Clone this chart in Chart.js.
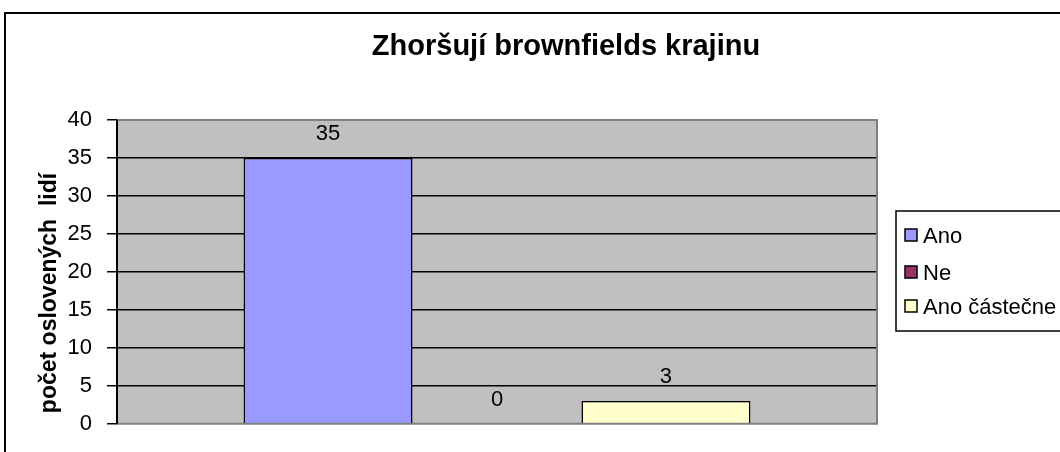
<!DOCTYPE html>
<html>
<head>
<meta charset="utf-8">
<script src="https://cdn.jsdelivr.net/npm/chart.js@4/dist/chart.umd.min.js"></script>
<style>
html,body{margin:0;padding:0;background:#fff;}
#wrap{width:1060px;height:452px;position:relative;}
</style>
</head>
<body>
<div id="wrap"><canvas id="c" width="1060" height="452"></canvas></div>
<script>
const chartTitle = "Zhoršují brownfields krajinu";
const yAxisTitle = "počet oslovených  lidí";
const categories = [""];
const seriesNames = ["Ano", "Ne", "Ano částečne"];
const seriesValues = [35, 0, 3];
const seriesColors = ["#9999FF", "#993366", "#FFFFCC"];
const yTicks = [0, 5, 10, 15, 20, 25, 30, 35, 40];

const FONT = "Arial, 'Liberation Sans', sans-serif";

const decor = {
  id: 'decor',
  beforeDraw(chart) {
    const ctx = chart.ctx, a = chart.chartArea;
    ctx.save();
    ctx.fillStyle = '#fff';
    ctx.fillRect(0, 0, chart.width, chart.height);
    ctx.strokeStyle = '#000';
    ctx.lineWidth = 2;
    ctx.beginPath();
    ctx.moveTo(5, chart.height + 5);
    ctx.lineTo(5, 13);
    ctx.lineTo(chart.width + 5, 13);
    ctx.stroke();
    ctx.fillStyle = '#C0C0C0';
    ctx.fillRect(a.left, a.top, a.right - a.left, a.bottom - a.top);
    ctx.restore();
  },
  afterDatasetsDraw(chart) {
    const ctx = chart.ctx, a = chart.chartArea;
    ctx.save();
    ctx.strokeStyle = '#808080';
    ctx.lineWidth = 2;
    ctx.beginPath();
    ctx.moveTo(a.left, a.top);
    ctx.lineTo(a.right, a.top);
    ctx.lineTo(a.right, a.bottom);
    ctx.lineTo(a.left, a.bottom);
    ctx.stroke();
    ctx.strokeStyle = '#000';
    ctx.beginPath();
    ctx.moveTo(a.left, a.top);
    ctx.lineTo(a.left, a.bottom);
    ctx.stroke();
    // data labels
    ctx.fillStyle = '#000';
    ctx.font = '22px ' + FONT;
    ctx.textAlign = 'center';
    ctx.textBaseline = 'middle';
    chart.data.datasets.forEach((ds, i) => {
      const meta = chart.getDatasetMeta(i);
      meta.data.forEach((bar, j) => {
        ctx.fillText(String(ds.data[j]), bar.x, bar.y - 24);
      });
    });
    // title
    ctx.font = 'bold 29px ' + FONT;
    ctx.fillText(chartTitle, 566, 47);
    // y axis title
    ctx.save();
    ctx.translate(50, 293);
    ctx.rotate(-Math.PI / 2);
    ctx.font = 'bold 23px ' + FONT;
    ctx.fillText(yAxisTitle, 0, 0);
    ctx.restore();
    // legend
    const lx = 896, ly0 = 211, lh = 120;
    ctx.strokeStyle = '#000';
    ctx.lineWidth = 1.5;
    ctx.strokeRect(lx, ly0, 200, lh);
    ctx.font = '22px ' + FONT;
    ctx.textAlign = 'left';
    const rowY = [236, 273, 307];
    seriesNames.forEach((name, i) => {
      const y = rowY[i];
      ctx.fillStyle = seriesColors[i];
      ctx.fillRect(lx + 9, y - 7, 12, 12);
      ctx.strokeStyle = '#000';
      ctx.lineWidth = 1.5;
      ctx.strokeRect(lx + 9, y - 7, 12, 12);
      ctx.fillStyle = '#000';
      ctx.fillText(name, lx + 27, y + 1);
    });
    ctx.restore();
  }
};

const datasets = seriesNames.map((name, i) => ({
  label: name,
  data: [seriesValues[i]],
  backgroundColor: seriesColors[i],
  borderColor: '#000',
  borderWidth: 1.5,
  categoryPercentage: 0.667,
  barPercentage: 1.0
}));

new Chart(document.getElementById('c'), {
  type: 'bar',
  data: { labels: categories, datasets },
  options: {
    responsive: false,
    animation: false,
    devicePixelRatio: 1,
    layout: { padding: { top: 120, right: 183, bottom: 28, left: 0 } },
    plugins: { legend: { display: false }, title: { display: false }, tooltip: { enabled: false } },
    scales: {
      x: { display: false, offset: true },
      y: {
        min: 0, max: 40,
        afterBuildTicks(scale) { scale.ticks = yTicks.map(v => ({ value: v })); },
        afterFit(scale) { scale.width = 117; },
        ticks: { color: '#000', font: { size: 22, family: FONT }, padding: 15 },
        grid: {
          color: (c) => (c.tick && (c.tick.value === 0 || c.tick.value === 40)) ? 'rgba(0,0,0,0)' : '#000',
          tickColor: '#000',
          lineWidth: 1.5,
          tickLength: 10,
          drawOnChartArea: true
        },
        border: { display: true, color: '#000', width: 2 }
      }
    }
  },
  plugins: [decor]
});
</script>
</body>
</html>
